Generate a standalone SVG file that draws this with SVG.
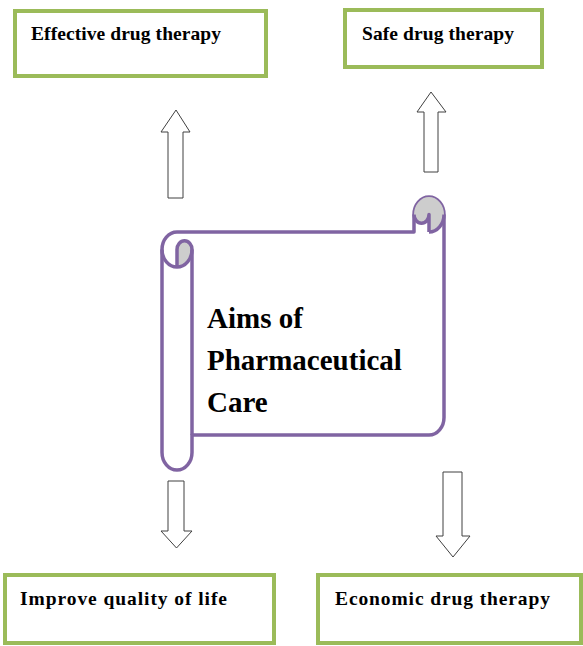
<svg xmlns="http://www.w3.org/2000/svg" width="583" height="646" viewBox="0 0 583 646">
<style>
.box{fill:#fff;stroke:#9BBB59;stroke-width:4}
.lbl{font-family:"Liberation Serif","Times New Roman",serif;font-weight:bold;font-size:19.5px;fill:#000}
.arrow{fill:#fff;stroke:#404040;stroke-width:1}
.scroll{fill:#fff;stroke:#8064A2;stroke-width:3.5;stroke-linejoin:round}
.curl{fill:#CDCDCD;stroke:none}
.line{fill:none;stroke:#8064A2;stroke-width:3.5;stroke-linejoin:round}
.title{font-family:"Liberation Serif","Times New Roman",serif;font-weight:bold;font-size:29px;fill:#000}
</style>
<rect width="583" height="646" fill="#fff"/>
<g id="connectors">
<path class="arrow" d="M176 110 L190 132 L183 132 L183 198 L168 198 L168 132 L161 132 Z"/>
<path class="arrow" d="M431 92 L446 112 L438 112 L438 172 L424 172 L424 112 L417 112 Z"/>
<path class="arrow" d="M168 481 L184 481 L184 531 L192 531 L176.5 548 L161 531 L168 531 Z"/>
<path class="arrow" d="M443 472 L462 472 L462 536 L470 536 L453 557 L436 536 L443 536 Z"/>
</g>
<g id="effective">
<rect class="box" x="15" y="11" width="251" height="65"/>
<text class="lbl" x="31" y="40" textLength="190">Effective drug therapy</text>
</g>
<g id="safe">
<rect class="box" x="345" y="10" width="197" height="57"/>
<text class="lbl" x="362" y="40" textLength="152">Safe drug therapy</text>
</g>
<g id="improve">
<rect class="box" x="5" y="575" width="269" height="68"/>
<text class="lbl" x="20" y="605" textLength="207">Improve quality of life</text>
</g>
<g id="economic">
<rect class="box" x="318" y="575" width="263" height="68"/>
<text class="lbl" x="335" y="605" textLength="215">Economic drug therapy</text>
</g>
<g id="aims">
<path class="scroll" d="M162 249.5 A15 17.5 0 0 1 177 232 L414 232 L414 214.5 A15 17.5 0 0 1 444 214.5 L444 417.5 A15 17.5 0 0 1 429 435 L192 435 L192 452.5 A15 17.5 0 0 1 162 452.5 Z"/>
<path class="curl" d="M429 232 A15 17.5 0 1 0 414 214.5 A7.5 8.75 0 0 0 429 214.5 Z"/>
<path class="curl" d="M177 267 A15 17.5 0 0 0 192 249.5 A7.5 8.75 0 0 0 177 249.5 Z"/>
<path class="line" d="M414 214.5 A7.5 8.75 0 0 0 429 214.5 L429 232"/>
<path class="line" d="M429 232 A15 17.5 0 0 0 444 214.5"/>
<path class="line" d="M162 249.5 A15 17.5 0 0 0 192 249.5"/>
<path class="line" d="M177 267 L177 249.5 A7.5 8.75 0 0 1 192 249.5 L192 435"/>
<text class="title" x="207" y="328">Aims of</text>
<text class="title" x="207" y="370">Pharmaceutical</text>
<text class="title" x="207" y="412">Care</text>
</g>
</svg>
